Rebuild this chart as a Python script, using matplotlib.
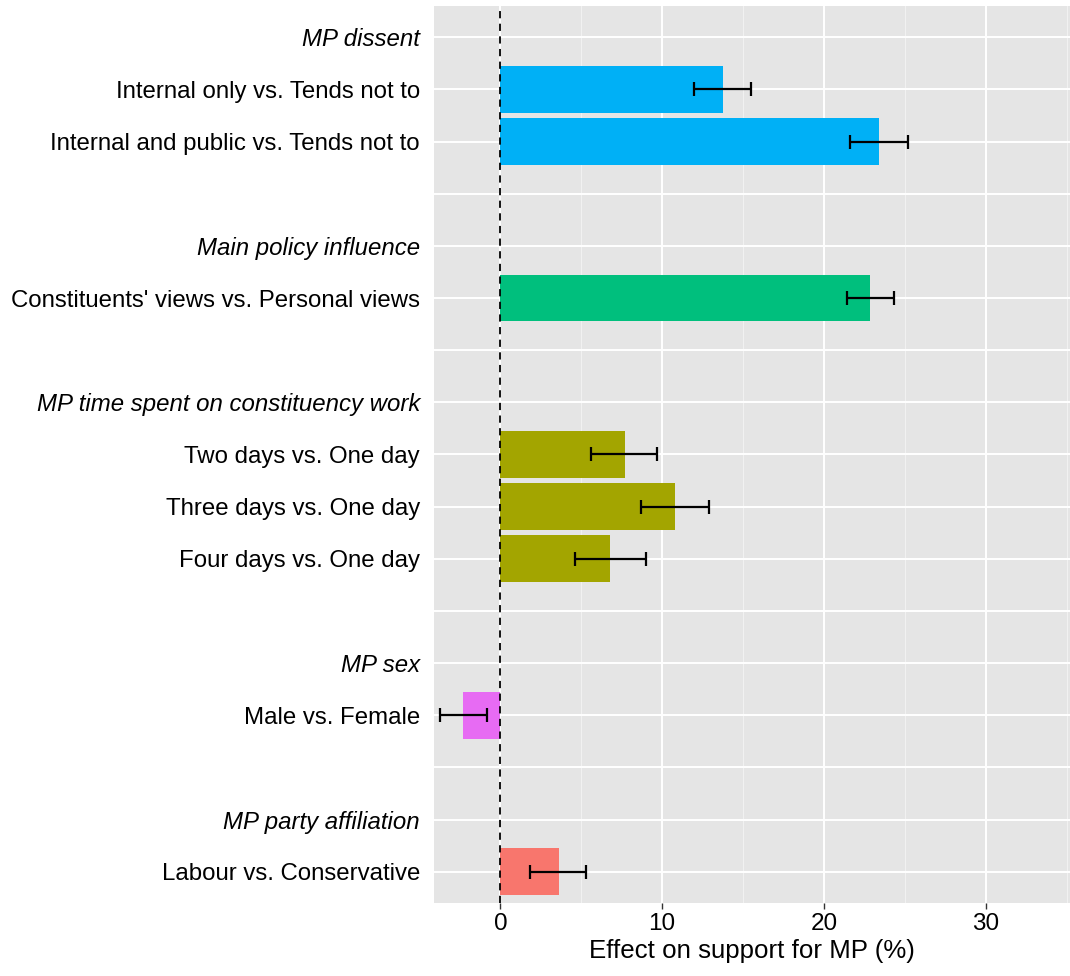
import numpy as np
import matplotlib.pyplot as plt

plt.rcParams['font.family'] = ['Liberation Sans', 'DejaVu Sans']

# rows from top to bottom; headers have no value
labels = ["MP dissent",
          "Internal only vs. Tends not to",
          "Internal and public vs. Tends not to",
          "",
          "Main policy influence",
          "Constituents' views vs. Personal views",
          "",
          "MP time spent on constituency work",
          "Two days vs. One day",
          "Three days vs. One day",
          "Four days vs. One day",
          "",
          "MP sex",
          "Male vs. Female",
          "",
          "MP party affiliation",
          "Labour vs. Conservative"]
is_header = [True, False, False, False, True, False, False, True,
             False, False, False, False, True, False, False, True, False]

effect = [np.nan, 13.75, 23.4, np.nan, np.nan, 22.85, np.nan, np.nan,
          7.7, 10.8, 6.75, np.nan, np.nan, -2.3, np.nan, np.nan, 3.6]
ci_low = [np.nan, 11.95, 21.6, np.nan, np.nan, 21.4, np.nan, np.nan,
          5.6, 8.7, 4.6, np.nan, np.nan, -3.7, np.nan, np.nan, 1.85]
ci_high = [np.nan, 15.5, 25.2, np.nan, np.nan, 24.3, np.nan, np.nan,
           9.7, 12.9, 9.0, np.nan, np.nan, -0.85, np.nan, np.nan, 5.3]
groups = ["", "dissent", "dissent", "", "", "policy", "", "",
          "time", "time", "time", "", "", "sex", "", "", "party"]
group_colors = {"dissent": "#00B0F6", "policy": "#00BF7D", "time": "#A3A500",
                "sex": "#E76BF3", "party": "#F8766D"}

n = len(labels)
y = np.arange(n)[::-1]

fig = plt.figure(figsize=(10.7, 9.76), dpi=100)
ax = fig.add_axes([0.4056, 0.0748, 0.5944, 0.9191])
ax.set_facecolor("#E5E5E5")

for i in range(n):
    if np.isnan(effect[i]):
        continue
    ax.barh(y[i], effect[i], height=0.9, color=group_colors[groups[i]], zorder=3)
    ax.errorbar(effect[i], y[i],
                xerr=[[effect[i] - ci_low[i]], [ci_high[i] - effect[i]]],
                fmt="none", ecolor="black", elinewidth=1.6, capsize=5,
                capthick=1.6, zorder=4)

ax.axvline(0, color="black", linestyle=(0, (4, 3)), linewidth=1.3, zorder=5)

ax.set_xlim(-4.1, 35.2)
ax.set_ylim(-0.6, n - 0.4)
ax.set_xticks([0, 10, 20, 30])
ax.set_xticks([5, 15, 25, 35], minor=True)
ax.set_yticks(y)
ax.set_yticklabels(labels)
for t, h in zip(ax.get_yticklabels(), is_header):
    if h:
        t.set_style("italic")

ax.grid(True, which="major", color="white", linewidth=1.4, zorder=0)
ax.grid(True, which="minor", axis="x", color="#F2F2F2", linewidth=0.7, zorder=0)
ax.set_axisbelow(True)
for s in ax.spines.values():
    s.set_visible(False)

ax.tick_params(axis="y", length=0, pad=10, labelsize=17.3, labelcolor="black")
ax.tick_params(axis="x", which="major", length=4, width=1, color="#333333",
               labelsize=17.5, labelcolor="black", pad=3)
ax.tick_params(axis="x", which="minor", length=0)
ax.set_xlabel("Effect on support for MP (%)", fontsize=18.6, labelpad=3)

fig.savefig("out.png", dpi=100)
